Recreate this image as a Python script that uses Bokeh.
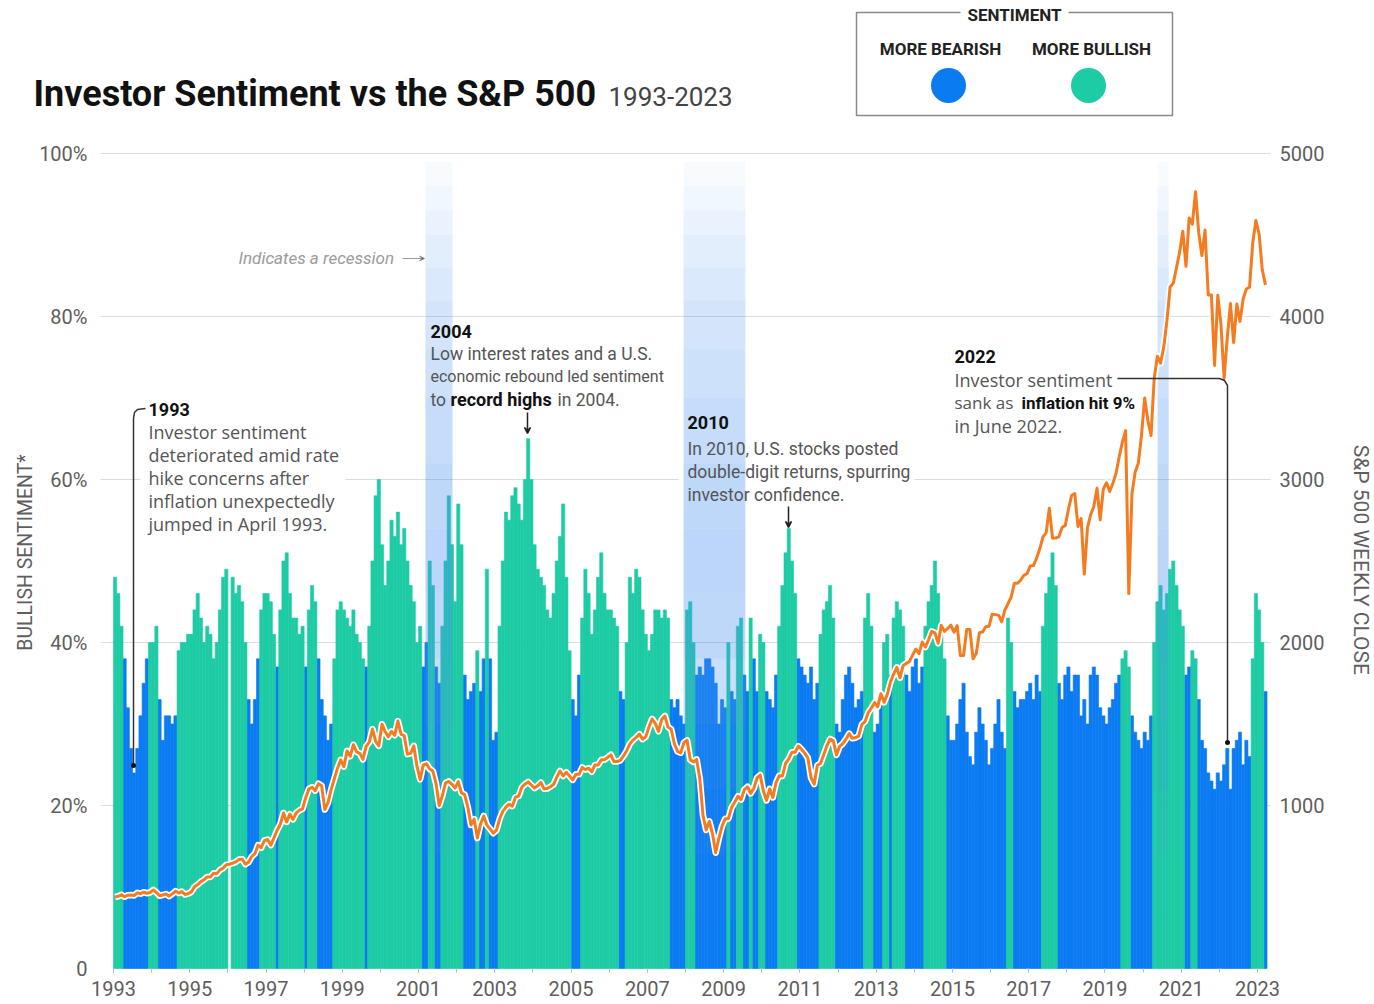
import numpy as np
from bokeh.plotting import figure
from bokeh.models import (Range1d, LinearAxis, FixedTicker, Label, ColumnDataSource,
                          Arrow, VeeHead)
from bokeh.embed import file_html
from bokeh.resources import INLINE

# ---------------- data (monthly samples) ----------------
START_YEAR = 1993
nan = float("nan")

bullish_pct = [
    48, 46, 42, 38, 32, 27, 24, 27, 31, 35, 38, 40,      # 1993
    40, 42, 33, 28, 31, 31, 30, 31, 39, 40, 40, 41,      # 1994
    41, 44, 46, 43, 40, 42, 41, 38, 40, 44, 48, 49,      # 1995
    nan, 48, 46, 47, 45, 40, 33, 30, 33, 38, 44, 46,     # 1996
    46, 45, 41, 37, 44, 50, 51, 46, 43, 43, 41, 42,      # 1997
    37, 44, 47, 45, 38, 33, 31, 28, 30, 38, 44, 45,      # 1998
    44, 43, 42, 44, 41, 40, 38, 37, 42, 50, 58, 60,      # 1999
    52, 47, 50, 55, 53, 56, 52, 54, 50, 47, 45, 40,      # 2000
    42, 37, 40, 50, 47, 37, 35, 42, 50, 58, 52, 45,      # 2001
    57, 52, 36, 33, 34, 35, 39, 34, 38, 49, 38, 28,      # 2002
    29, 42, 50, 56, 55, 58, 59, 57, 55, 60, 65, 60,      # 2003
    52, 49, 48, 47, 44, 43, 46, 50, 53, 57, 48, 39,      # 2004
    33, 31, 36, 43, 49, 46, 41, 44, 48, 51, 46, 44,      # 2005
    44, 43, 42, 34, 33, 40, 48, 46, 49, 48, 44, 41,      # 2006
    39, 41, 44, 44, 43, 44, 43, 33, 32, 33, 31, 30,      # 2007
    44, 45, 40, 36, 37, 36, 38, 38, 37, 35, 30, 33,      # 2008
    32, 40, 34, 33, 42, 43, 36, 34, 43, 38, 34, 41,      # 2009
    40, 34, 33, 32, 36, 42, 47, 51, 54, 50, 46, 38,      # 2010
    37, 36, 35, 37, 33, 35, 41, 44, 45, 47, 43, 30,      # 2011
    29, 33, 36, 37, 35, 32, 33, 34, 43, 46, 42, 29,      # 2012
    30, 33, 40, 41, 36, 43, 45, 44, 42, 36, 34, 37,      # 2013
    38, 35, 37, 42, 45, 47, 50, 46, 42, 38, 31, 28,      # 2014
    28, 30, 33, 35, 29, 26, 25, 29, 32, 30, 28, 25,      # 2015
    27, 30, 33, 29, 27, 43, 40, 34, 32, 33, 33, 34,      # 2016
    35, 33, 36, 34, 42, 46, 48, 51, 47, 35, 33, 36,      # 2017
    37, 34, 36, 36, 31, 33, 30, 36, 37, 36, 32, 31,      # 2018
    30, 32, 33, 35, 36, 38, 39, 37, 31, 29, 28, 27,      # 2019
    29, 28, 31, 40, 45, 47, 44, 46, 49, 50, 47, 44,      # 2020
    42, 36, 37, 39, 38, 33, 28, 27, 24, 23, 22, 24,      # 2021
    23, 25, 27, 22, 27, 28, 29, 25, 28, 26, 38, 46,      # 2022
    44, 40, 34,                                          # 2023
]

# G = more bullish, B = more bearish
sentiment_side = "".join([
    "GGGBBBBBBBBG", "GGBBBBBBGGGG", "GGGGGGGGGGGG", "GGGGGGBBBBGG",
    "GGGBGGGGGGGG", "BGGGBBBBBGGG", "GGGGGGGBGGGG", "GGGGGGGGGGGG",
    "GBBGGBBGGGGG", "GGBBBBGBBGBB", "BGGGGGGGGGGG", "GGGGGGGGGGGG",
    "BBBGGGGGGGGG", "GGGBBGGGGGGG", "GGGGGGGBBBBB", "GGGBBBBBBBBB",
    "BGBBGGBBGBBG", "GBBBBGGGGGGB", "BBBBBBGGGGGB", "BBBBBBBBGGGB",
    "BBGGBGGGGBBB", "BBBGGGGGGGBB", "BBBBBBBBBBBB", "BBBBBGGBBBBB",
    "BBBBGGGGGBBB", "BBBBBBBBBBBB", "BBBBBGGGBBBB", "BBBGGGGGGGGG",
    "GBBGGBBBBBBB", "BBBBBBBBBBGG", "GGB",
])

sp500_close = [
    439, 443, 452, 440, 450, 451, 448, 464, 459, 468, 462, 466,
    482, 467, 446, 451, 457, 444, 458, 475, 463, 472, 454, 459,
    470, 501, 515, 533, 545, 562, 562, 584, 582, 605, 616,
    636, 640, 646, 654, 669, 671, 640, 652, 687, 705, 757, 741,
    786, 791, 757, 801, 848, 885, 954, 899, 947, 915, 955, 970,
    980, 1049, 1102, 1112, 1091, 1134, 1121, 975, 1017, 1099, 1164, 1229,
    1280, 1238, 1335, 1302, 1373, 1329, 1320, 1283, 1363, 1389, 1469,
    1394, 1366, 1499, 1452, 1421, 1455, 1431, 1518, 1437, 1429, 1315, 1320,
    1366, 1240, 1160, 1249, 1256, 1224, 1211, 1134, 1000, 1060, 1139, 1148,
    1130, 1107, 1147, 1077, 1067, 990, 880, 916, 800, 886, 936, 880,
    856, 830, 848, 917, 964, 990, 1008, 996, 1051, 1058, 1112,
    1131, 1145, 1126, 1107, 1121, 1141, 1102, 1104, 1115, 1130, 1174, 1212,
    1181, 1204, 1181, 1157, 1192, 1191, 1234, 1220, 1229, 1207, 1249, 1248,
    1280, 1281, 1295, 1311, 1270, 1270, 1277, 1304, 1336, 1378, 1401, 1418,
    1438, 1407, 1421, 1482, 1531, 1503, 1455, 1527, 1549, 1481, 1468,
    1379, 1331, 1323, 1386, 1400, 1280, 1267, 1283, 1166, 940, 850, 903,
    826, 710, 798, 873, 919, 919, 987, 1021, 1057, 1036, 1096, 1115,
    1074, 1104, 1169, 1187, 1089, 1031, 1102, 1049, 1141, 1183, 1181, 1258,
    1286, 1327, 1326, 1364, 1345, 1321, 1292, 1170, 1131, 1247, 1258,
    1312, 1366, 1408, 1398, 1310, 1362, 1379, 1407, 1441, 1412, 1416, 1426,
    1498, 1515, 1569, 1598, 1631, 1606, 1686, 1633, 1682, 1757, 1806, 1848,
    1783, 1859, 1872, 1884, 1924, 1960, 1931, 2003, 1972, 2018, 2068, 2059,
    1995, 2105, 2068, 2086, 2107, 2063, 2104, 1920, 1920, 2079, 2080,
    1900, 1932, 2060, 2065, 2097, 2099, 2174, 2171, 2168, 2126, 2199, 2239,
    2279, 2364, 2363, 2384, 2412, 2423, 2470, 2472, 2519, 2575, 2648, 2674,
    2824, 2640, 2641, 2648, 2705, 2718, 2816, 2902, 2914, 2712, 2760, 2420,
    2704, 2784, 2834, 2946, 2752, 2942, 2980, 2926, 2977, 3038, 3141, 3231,
    3300, 2300, 2912, 3044, 3100, 3271, 3500, 3363, 3270, 3622, 3756,
    3714, 3811, 3973, 4181, 4204, 4298, 4395, 4523, 4308, 4605, 4567, 4766,
    4516, 4374, 4530, 4132, 4132, 3700, 4130, 3955, 3620, 3872, 4080, 3840,
    4077, 3970, 4109, 4169, 4180, 4450, 4589, 4508, 4288, 4194,
]

recession_start = [2001.18, 2007.95, 2020.38]
recession_end = [2001.89, 2009.57, 2020.67]

year_ticks = list(range(1993, 2024, 2))
pct_ticks = [0, 20, 40, 60, 80, 100]
pct_labels = ["0", "20%", "40%", "60%", "80%", "100%"]
sp_ticks = [1000, 2000, 3000, 4000, 5000]

# ---------------- layout helpers (canvas pixel -> data) ----------------
W, H = 1372, 1002
PX_YEAR = 38.133
PX_PCT = 8.15
def dx(X):
    return START_YEAR + (X - 113) / PX_YEAR
def dy(Y):
    return (968 - Y) / PX_PCT

BLUE = "#0B7BF2"
GREEN = "#1DCBA4"
ORANGE = "#F47B20"
GREY_TXT = "#555555"
AXIS_TXT = "#5e5e5e"

p = figure(width=W, height=H, output_backend="svg", toolbar_location=None,
           x_range=Range1d(dx(0), dx(W)), y_range=Range1d(dy(H), dy(0)),
           min_border_left=0, min_border_right=0, min_border_top=0,
           min_border_bottom=0)
p.outline_line_color = None
p.background_fill_color = "white"
p.border_fill_color = "white"
p.extra_y_ranges = {"sp": Range1d(dy(H) * 50, dy(0) * 50)}
p.xgrid.visible = False
p.ygrid.visible = False

# axes (placed at fixed data locations)
p.xaxis.fixed_location = 0
p.xaxis.ticker = FixedTicker(ticks=year_ticks, minor_ticks=list(range(1993, 2024)))
p.xaxis.major_label_text_font = "Roboto"
p.xaxis.major_label_text_font_size = "20px"
p.xaxis.major_label_text_color = AXIS_TXT
p.xaxis.axis_line_color = None
p.xaxis.major_tick_line_color = "#bbbbbb"
p.xaxis.minor_tick_line_color = "#bbbbbb"
p.xaxis.major_tick_in = 0
p.xaxis.major_tick_out = 4
p.xaxis.minor_tick_in = 0
p.xaxis.minor_tick_out = 4
p.xaxis.major_label_standoff = 8

p.yaxis.fixed_location = dx(100)
p.yaxis.ticker = FixedTicker(ticks=pct_ticks)
p.yaxis.major_label_overrides = {t: l for t, l in zip(pct_ticks, pct_labels)}
p.yaxis.major_label_text_font = "Roboto"
p.yaxis.major_label_text_font_size = "20px"
p.yaxis.major_label_text_color = AXIS_TXT
p.yaxis.axis_line_color = None
p.yaxis.major_tick_line_color = None
p.yaxis.minor_tick_line_color = None
p.yaxis.major_label_standoff = 7

ra = LinearAxis(y_range_name="sp", ticker=FixedTicker(ticks=sp_ticks),
                fixed_location=dx(1270))
ra.major_label_text_font = "Roboto"
ra.major_label_text_font_size = "20px"
ra.major_label_text_color = AXIS_TXT
ra.axis_line_color = None
ra.major_tick_line_color = None
ra.minor_tick_line_color = None
ra.major_label_standoff = 3
p.add_layout(ra, "right")

# horizontal gridlines
grid_vals = pct_ticks[1:]
p.segment(x0=[dx(100)] * len(grid_vals), x1=[dx(1270)] * len(grid_vals),
          y0=grid_vals, y1=grid_vals, line_color="#dcdcdc", line_width=1)

# white backgrounds behind two annotation blocks (interrupt gridlines)
p.quad(left=[dx(140), dx(678)], right=[dx(345), dx(914)],
       bottom=[dy(537), dy(506)], top=[dy(398), dy(410)],
       fill_color="white", line_color=None)

# ---------------- bars ----------------
vals = np.array(bullish_pct, dtype=float)
n = len(vals)
xc = START_YEAR + (np.arange(n) + 0.5) / 12.0
side = np.array(list(sentiment_side))
for code, col in (("B", BLUE), ("G", GREEN)):
    m = side == code
    src = ColumnDataSource(dict(x=xc[m], top=vals[m]))
    p.vbar(x="x", top="top", bottom=0, width=1 / 12, source=src,
           fill_color=col, line_color=col, line_width=0.6)

# ---------------- recession bands (soft vertical gradient) ----------------
band_profile = [(99, 0.04), (96, 0.08), (93, 0.12), (90, 0.16), (86, 0.20), (82, 0.24),
                (76, 0.28), (70, 0.32), (62, 0.36), (54, 0.38), (46, 0.36), (38, 0.30),
                (30, 0.22), (22, 0.13), (14, 0.06), (6, 0.02), (0, 0.0)]
for (hi, a), (lo, _) in zip(band_profile[:-1], band_profile[1:]):
    p.quad(left=recession_start, right=recession_end, bottom=lo, top=hi,
           fill_color="#4b93ee", fill_alpha=a, line_color=None)

# ---------------- S&P 500 line ----------------
sp = np.array(sp500_close, dtype=float)
xs = START_YEAR + (np.arange(len(sp)) + 0.5) / 12.0
p.line(xs, sp, y_range_name="sp", line_color="white", line_width=6.5, line_join="round")
p.line(xs, sp, y_range_name="sp", line_color=ORANGE, line_width=3, line_join="round")

# ---------------- title & legend ----------------
p.add_layout(Label(x=dx(33), y=dy(93), text="Investor Sentiment vs the S&P 500",
                   text_font="Roboto", text_font_style="bold", text_font_size="36px",
                   text_color="#111111", text_baseline="middle"))
p.add_layout(Label(x=dx(608), y=dy(96), text="1993-2023", text_font="Roboto",
                   text_font_size="26px", text_color="#444444", text_baseline="middle"))

p.quad(left=[dx(856)], right=[dx(1172)], bottom=[dy(115)], top=[dy(12)],
       fill_color=None, line_color="#8a8a8a", line_width=1.5)
p.quad(left=[dx(960)], right=[dx(1068)], bottom=[dy(20)], top=[dy(4)],
       fill_color="white", line_color=None)
p.add_layout(Label(x=dx(1014), y=dy(14), text="SENTIMENT", text_font="Roboto",
                   text_font_style="bold", text_font_size="17px", text_color="#222222",
                   text_align="center", text_baseline="middle"))
p.add_layout(Label(x=dx(940), y=dy(48), text="MORE BEARISH", text_font="Roboto",
                   text_font_style="bold", text_font_size="17px", text_color="#222222",
                   text_align="center", text_baseline="middle"))
p.add_layout(Label(x=dx(1091), y=dy(48), text="MORE BULLISH", text_font="Roboto",
                   text_font_style="bold", text_font_size="17px", text_color="#222222",
                   text_align="center", text_baseline="middle"))
p.scatter([dx(948)], [dy(85)], size=35, fill_color=BLUE, line_color=None)
p.scatter([dx(1088)], [dy(85)], size=35, fill_color=GREEN, line_color=None)

# ---------------- axis titles ----------------
p.add_layout(Label(x=dx(25), y=dy(552), text="BULLISH SENTIMENT*", angle=np.pi / 2,
                   text_font="Roboto", text_font_size="19.5px", text_color=AXIS_TXT,
                   text_align="center", text_baseline="middle"))
p.add_layout(Label(x=dx(1360), y=dy(562), text="S&P 500  WEEKLY CLOSE", angle=-np.pi / 2,
                   text_font="Roboto", text_font_size="21px", text_color=AXIS_TXT,
                   text_align="center", text_baseline="middle"))

# ---------------- annotations ----------------
def add_text(X, Y, txt, font="Roboto", size="17px", color=GREY_TXT, style="normal"):
    p.add_layout(Label(x=dx(X), y=dy(Y), text=txt, text_font=font, text_font_size=size,
                       text_color=color, text_font_style=style, text_baseline="middle"))

# recession hint
add_text(238, 257, "Indicates a recession", size="17px", color="#9a9a9a", style="italic")
p.add_layout(Arrow(end=VeeHead(size=5, line_color="#9a9a9a", line_width=1),
                   x_start=dx(402), y_start=dy(258), x_end=dx(424), y_end=dy(258),
                   line_color="#9a9a9a", line_width=1))

# 1993
p.line([dx(133), dx(133), dx(134), dx(137), dx(145)],
       [dy(765), dy(418), dy(412), dy(409), dy(408)], line_color="#333333", line_width=1.5)
p.scatter([dx(133)], [dy(765)], size=5, fill_color="#111111", line_color=None)
add_text(148, 409, "1993", size="18px", color="#111111", style="bold")
for i, t in enumerate(["Investor sentiment", "deteriorated amid rate", "hike concerns after",
                       "inflation unexpectedly", "jumped in April 1993."]):
    add_text(148, 431 + 23 * i, t, font="Open Sans", size="18px")

# 2004
add_text(430, 331, "2004", size="18px", color="#111111", style="bold")
add_text(430, 353, "Low interest rates and a U.S.", size="17.5px")
add_text(430, 376, "economic rebound led sentiment", size="16px")
add_text(430, 399, "to", size="17.5px")
add_text(450, 399, "record highs", size="18px", color="#111111", style="bold")
add_text(557, 399, "in 2004.", size="17.5px")
p.add_layout(Arrow(end=VeeHead(size=6, line_color="#222222", line_width=1.5),
                   x_start=dx(527), y_start=dy(412), x_end=dx(527), y_end=dy(433),
                   line_color="#222222", line_width=1.5))

# 2010
add_text(687, 422, "2010", size="18px", color="#111111", style="bold")
add_text(687, 448, "In 2010, U.S. stocks posted", size="17.5px")
add_text(687, 471, "double-digit returns, spurring", size="17.5px")
add_text(687, 494, "investor confidence.", size="17.5px")
p.add_layout(Arrow(end=VeeHead(size=6, line_color="#222222", line_width=1.5),
                   x_start=dx(788), y_start=dy(506), x_end=dx(788), y_end=dy(527),
                   line_color="#222222", line_width=1.5))

# 2022
add_text(954, 356, "2022", size="18px", color="#111111", style="bold")
add_text(954, 379, "Investor sentiment", font="Open Sans", size="18px")
add_text(954, 402, "sank as", font="Open Sans", size="17px")
add_text(1021, 402, "inflation hit 9%", size="17px", color="#111111", style="bold")
add_text(954, 425, "in June 2022.", font="Open Sans", size="18px")
p.line([dx(1117), dx(1219), dx(1224), dx(1227), dx(1227)],
       [dy(378), dy(378), dy(380), dy(385), dy(742)], line_color="#333333", line_width=1.5)
p.scatter([dx(1227)], [dy(742)], size=5, fill_color="#111111", line_color=None)

open("out.html", "w").write(file_html(p, INLINE))
